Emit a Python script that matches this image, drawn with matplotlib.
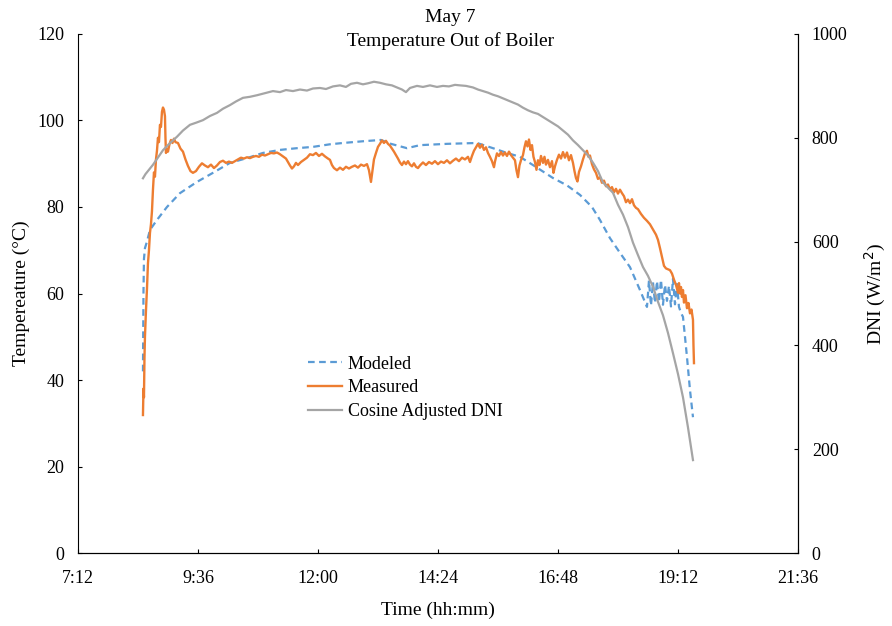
import matplotlib.pyplot as plt
from matplotlib.ticker import FuncFormatter

plt.rcParams['font.family'] = ['Liberation Serif', 'DejaVu Serif']

# time in decimal hours
meas_t = [8.50, 8.51, 8.52, 8.53, 8.54, 8.56, 8.58, 8.60, 8.62, 8.64, 8.66, 8.68, 8.70, 8.72, 8.74,
          8.76, 8.78, 8.80, 8.82, 8.84, 8.86, 8.88, 8.90, 8.92, 8.94, 8.95, 8.96, 8.98, 9.00, 9.03,
          9.06, 9.09, 9.12, 9.15, 9.20, 9.25, 9.30, 9.35, 9.40, 9.45, 9.50, 9.56, 9.62, 9.68, 9.74,
          9.80, 9.86, 9.92, 9.98, 10.04, 10.10, 10.16, 10.22, 10.28, 10.34, 10.40, 10.46, 10.52, 10.58, 10.64,
          10.70, 10.76, 10.82, 10.88, 10.94, 11.00, 11.06, 11.12, 11.18, 11.24, 11.30, 11.36, 11.40, 11.44, 11.48,
          11.52, 11.56, 11.60, 11.66, 11.72, 11.78, 11.84, 11.90, 11.96, 12.02, 12.08, 12.14, 12.20, 12.24, 12.28,
          12.32, 12.38, 12.44, 12.50, 12.56, 12.62, 12.68, 12.74, 12.80, 12.86, 12.92, 12.98, 13.02, 13.06, 13.09,
          13.12, 13.16, 13.20, 13.24, 13.28, 13.32, 13.36, 13.40, 13.44, 13.48, 13.52, 13.56, 13.60, 13.64, 13.68,
          13.72, 13.76, 13.80, 13.84, 13.88, 13.92, 13.96, 14.00, 14.04, 14.10, 14.16, 14.22, 14.28, 14.34, 14.40,
          14.46, 14.52, 14.58, 14.64, 14.70, 14.76, 14.82, 14.88, 14.94, 15.00, 15.04, 15.08, 15.12, 15.16, 15.20,
          15.24, 15.28, 15.32, 15.36, 15.40, 15.44, 15.48, 15.52, 15.54, 15.58, 15.62, 15.66, 15.70, 15.74, 15.78,
          15.82, 15.86, 15.90, 15.94, 15.97, 16.00, 16.03, 16.06, 16.10, 16.13, 16.16, 16.19, 16.22, 16.25, 16.28,
          16.31, 16.34, 16.37, 16.40, 16.43, 16.46, 16.50, 16.53, 16.56, 16.60, 16.64, 16.68, 16.71, 16.74, 16.78,
          16.82, 16.86, 16.90, 16.94, 16.98, 17.02, 17.06, 17.10, 17.13, 17.16, 17.19, 17.22, 17.26, 17.30, 17.34,
          17.38, 17.41, 17.44, 17.48, 17.52, 17.56, 17.60, 17.64, 17.68, 17.72, 17.76, 17.80, 17.84, 17.88, 17.92,
          17.96, 18.00, 18.04, 18.08, 18.12, 18.16, 18.20, 18.24, 18.28, 18.32, 18.36, 18.40, 18.46, 18.52, 18.58,
          18.64, 18.70, 18.76, 18.80, 18.84, 18.88, 18.92, 18.96, 19.00, 19.04, 19.08, 19.12, 19.16, 19.20, 19.22,
          19.24, 19.26, 19.28, 19.30, 19.32, 19.35, 19.38, 19.41, 19.44, 19.47, 19.49, 19.50, 19.51, 19.52]
meas_temp = [31.9, 38.0, 36.0, 45.0, 50.0, 56.0, 61.0, 67.0, 70.0, 74.0, 76.0, 79.0, 84.0, 88.0, 87.0,
             91.0, 93.0, 96.0, 95.0, 99.0, 98.5, 102.0, 103.0, 102.5, 101.0, 96.0, 92.5, 93.5, 92.8, 94.5,
             95.5, 94.8, 95.8, 95.0, 94.8, 93.5, 92.8, 91.0, 89.5, 88.3, 87.9, 88.3, 89.3, 90.1, 89.6,
             89.2, 89.8, 89.0, 89.6, 90.4, 90.7, 90.2, 90.5, 90.2, 90.6, 91.0, 91.4, 91.2, 91.5, 91.3,
             91.6, 91.8, 91.6, 92.1, 91.9, 92.2, 92.5, 92.4, 92.6, 92.2, 91.7, 91.2, 90.4, 89.6, 88.9,
             89.4, 90.2, 89.7, 90.4, 90.9, 91.4, 92.2, 92.0, 92.5, 91.8, 92.3, 91.7, 91.2, 90.9, 89.7,
             89.0, 88.5, 89.1, 88.6, 89.3, 88.9, 89.3, 89.6, 89.1, 89.8, 89.5, 89.9, 88.5, 85.8, 88.5,
             91.0, 92.5, 93.9, 94.6, 95.4, 94.8, 95.3, 94.6, 94.2, 93.5, 92.8, 92.0, 91.2, 90.3, 89.7,
             90.5, 89.9, 90.6, 89.8, 89.4, 90.1, 89.3, 89.0, 89.6, 90.3, 89.7, 90.4, 90.0, 90.6, 89.9,
             90.5, 90.2, 90.8, 90.1, 90.7, 91.2, 90.6, 91.4, 91.0, 91.6, 90.4, 91.8, 93.0, 93.8, 94.6,
             93.7, 94.4, 93.2, 93.8, 92.5, 91.6, 90.6, 89.2, 90.5, 92.4, 91.8, 92.7, 91.9, 92.6, 91.8,
             92.8, 92.0, 91.4, 90.8, 88.5, 86.9, 89.6, 90.8, 92.0, 93.8, 95.2, 94.0, 95.6, 93.2, 94.3,
             91.6, 90.4, 88.6, 90.8, 89.7, 91.8, 90.2, 91.6, 89.8, 90.9, 89.2, 90.6, 87.9, 89.4, 90.9,
             92.1, 91.2, 92.7, 91.4, 92.6, 90.8, 92.0, 90.2, 88.3, 86.7, 85.9, 88.1, 89.4, 91.0, 92.4,
             93.0, 91.6, 91.9, 89.9, 88.7, 87.9, 86.5, 86.9, 85.6, 86.1, 84.8, 85.2, 84.1, 84.6, 83.4,
             84.2, 83.1, 84.0, 83.2, 82.5, 81.1, 81.7, 80.9, 81.8, 80.4, 79.8, 79.5, 78.4, 77.5, 76.8,
             76.0, 74.8, 73.6, 72.4, 70.5, 68.4, 66.4, 65.8, 65.6, 65.4, 64.6, 63.2, 62.0, 60.2, 62.4,
             60.0, 61.5, 59.2, 60.8, 57.9, 59.6, 56.6, 57.8, 55.4, 56.3, 54.6, 53.9, 48.0, 43.9]

model_t = [8.50, 8.51, 8.52, 8.54, 8.58, 8.64, 8.78, 8.98, 9.24, 9.58, 9.90, 10.24, 10.58, 10.90, 11.24,
           11.58, 11.90, 12.24, 12.50, 12.90, 13.26, 13.46, 13.78, 14.04, 14.58, 15.18, 15.50, 15.78, 16.04, 16.30,
           16.70, 16.98, 17.24, 17.48, 17.64, 17.84, 18.04, 18.24, 18.44, 18.58, 18.62, 18.66, 18.70, 18.74, 18.78,
           18.82, 18.86, 18.90, 18.94, 18.98, 19.02, 19.06, 19.10, 19.14, 19.18, 19.22, 19.26, 19.30, 19.34, 19.38,
           19.44, 19.50]
model_temp = [42.0, 60.0, 68.0, 70.5, 72.0, 74.7, 77.0, 80.0, 83.2, 85.8, 87.9, 90.2, 91.3, 92.5, 93.2,
              93.6, 93.9, 94.5, 94.8, 95.2, 95.5, 94.6, 93.6, 94.3, 94.6, 94.8, 93.6, 92.5, 91.6, 89.7,
              86.7, 85.0, 82.8, 80.0, 77.0, 72.8, 69.4, 66.1, 60.8, 56.9, 63.0, 57.2, 62.6, 57.8, 62.9,
              58.0, 63.2, 57.4, 62.0, 58.3, 61.8, 57.0, 63.4, 57.5, 62.2, 56.9, 55.5, 54.6, 50.0, 45.3,
              37.7, 31.4]

dni_t = [8.50, 8.55, 8.60, 8.65, 8.70, 8.80, 8.90, 9.00, 9.10, 9.18, 9.30, 9.44, 9.56, 9.70, 9.84,
         9.98, 10.10, 10.24, 10.36, 10.50, 10.64, 10.78, 10.94, 11.10, 11.24, 11.36, 11.50, 11.64, 11.78, 11.90,
         12.04, 12.16, 12.30, 12.44, 12.56, 12.66, 12.78, 12.90, 13.00, 13.12, 13.24, 13.36, 13.48, 13.58, 13.68,
         13.76, 13.84, 13.98, 14.10, 14.24, 14.38, 14.50, 14.62, 14.74, 14.84, 14.96, 15.10, 15.20, 15.30, 15.40,
         15.50, 15.60, 15.70, 15.80, 15.90, 16.00, 16.10, 16.20, 16.30, 16.40, 16.50, 16.60, 16.70, 16.80, 16.90,
         17.00, 17.10, 17.20, 17.30, 17.40, 17.50, 17.60, 17.70, 17.80, 17.90, 18.00, 18.10, 18.20, 18.30, 18.40,
         18.50, 18.60, 18.70, 18.80, 18.90, 19.00, 19.10, 19.20, 19.30, 19.40, 19.50]
dni = [722, 730, 736, 742, 748, 762, 776, 786, 795, 802, 814, 825, 829, 834, 842,
       848, 856, 863, 870, 877, 879, 882, 886, 890, 888, 892, 890, 893, 891, 895,
       896, 894, 899, 901, 898, 904, 906, 903, 905, 908, 906, 903, 901, 897, 893,
       888, 896, 900, 898, 901, 898, 900, 899, 902, 901, 900, 897, 893, 890, 887,
       883, 880, 876, 872, 868, 864, 858, 853, 849, 846, 840, 834, 828, 822, 814,
       806, 795, 786, 776, 766, 752, 736, 714, 704, 694, 671, 652, 628, 598, 574,
       551, 534, 513, 484, 458, 424, 385, 345, 300, 242, 179]

x_ticks = [7.2, 9.6, 12.0, 14.4, 16.8, 19.2, 21.6]


def hhmm(h, pos=None):
    total = int(round(h * 60))
    return f"{total // 60}:{total % 60:02d}"


fig = plt.figure(figsize=(8.92, 6.26), dpi=100)
ax = fig.add_axes([0.0874, 0.1166, 0.8072, 0.8291])
ax2 = ax.twinx()

l1, = ax.plot(model_t, model_temp, color='#5B9BD5', lw=1.6, linestyle=(0, (3, 2)), label='Modeled')
l2, = ax.plot(meas_t, meas_temp, color='#ED7D31', lw=1.7, label='Measured')
l3, = ax2.plot(dni_t, dni, color='#A5A5A5', lw=1.6, label='Cosine Adjusted DNI')

ax.set_xlim(7.2, 21.6)
ax.set_ylim(0, 120)
ax2.set_ylim(0, 1000)
ax.set_xticks(x_ticks)
ax.xaxis.set_major_formatter(FuncFormatter(hhmm))
ax.set_yticks(range(0, 121, 20))
ax2.set_yticks(range(0, 1001, 200))

for a in (ax, ax2):
    a.spines['top'].set_visible(False)
    a.tick_params(direction='in', length=3, width=0.8, labelsize=13, pad=10)
ax2.spines['left'].set_visible(False)
ax.tick_params(axis='x', pad=12)

ax.set_xlabel('Time (hh:mm)', fontsize=14, labelpad=11)
ax.set_ylabel('Tempereature (°C)', fontsize=14, labelpad=5)
ax2.set_ylabel('DNI (W/m$^2$)', fontsize=14, labelpad=11)

fig.text(0.505, 0.972, 'May 7', ha='center', va='center', fontsize=14)
fig.text(0.505, 0.934, 'Temperature Out of Boiler', ha='center', va='center', fontsize=14)

ax.legend(handles=[l1, l2, l3], loc='center left', bbox_to_anchor=(0.297, 0.318),
          frameon=False, fontsize=13, handlelength=1.9, labelspacing=0.38, handletextpad=0.3)

fig.savefig('out.png', dpi=100)
